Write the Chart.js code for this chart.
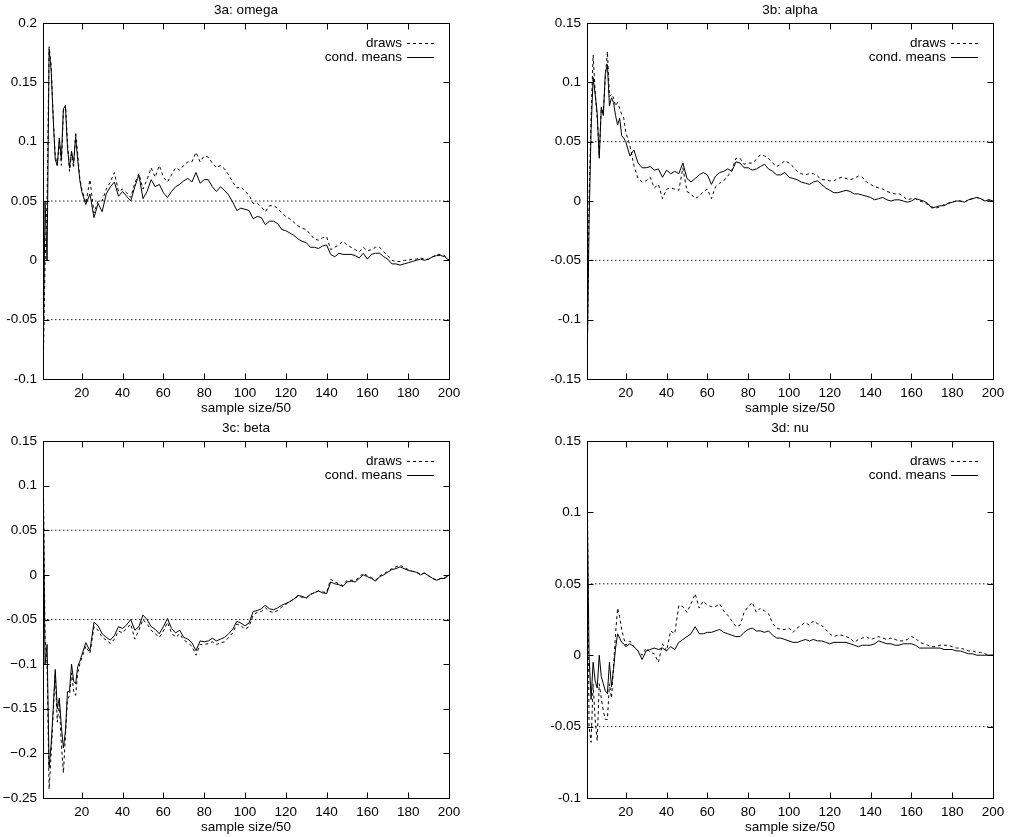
<!DOCTYPE html>
<html><head><meta charset="utf-8">
<script src="https://cdn.jsdelivr.net/npm/chart.js@4.4.1/dist/chart.umd.min.js"></script>
<style>
html,body{margin:0;padding:0;background:#fff;width:1012px;height:837px;overflow:hidden}
canvas{position:absolute}
</style></head><body>
<canvas id="c1" width="506" height="418" style="left:0;top:0"></canvas>
<canvas id="c2" width="506" height="418" style="left:506px;top:0"></canvas>
<canvas id="c3" width="506" height="419" style="left:0;top:418px"></canvas>
<canvas id="c4" width="506" height="419" style="left:506px;top:418px"></canvas>
<script>
const xValues = [1,2,3,4,5,6,7,8,9,10, 11,12,13,14,15,16,17,18,19,20,
  22,24,26,28,30,32,34,36,38,40, 42,44,46,48,50,52,54,56,58,60,
  62,64,66,68,70,72,74,76,78,80, 82,84,86,88,90,92,94,96,98,100,
  102,104,106,108,110,112,114,116,118,120, 122,124,126,128,130,132,134,136,138,140,
  142,144,146,148,150,152,154,156,158,160, 162,164,166,168,170,172,174,176,178,180,
  182,184,186,188,190,192,194,196,198,200];

const omegaMeans = [-0.1,0.05,0.0,0.178,0.16,0.12,0.085,0.08,0.103,0.085,
  0.128,0.13,0.095,0.078,0.092,0.082,0.104,0.085,0.068,0.058,
  0.047,0.056,0.036,0.048,0.041,0.056,0.062,0.066,0.054,0.058,
  0.054,0.05,0.062,0.072,0.052,0.058,0.068,0.062,0.064,0.057,
  0.053,0.058,0.062,0.064,0.067,0.069,0.066,0.074,0.065,0.068,
  0.068,0.062,0.058,0.062,0.059,0.055,0.049,0.042,0.044,0.043,
  0.042,0.035,0.037,0.036,0.030,0.033,0.033,0.031,0.026,0.025,
  0.023,0.021,0.018,0.016,0.015,0.011,0.011,0.01,0.012,0.013,
  0.005,0.003,0.006,0.005,0.005,0.005,0.004,0.002,0.006,0.001,
  0.005,0.006,0.006,0.003,0.001,-0.003,-0.003,-0.004,-0.003,-0.002,
  -0.001,0.0,0.001,0.0,0.001,0.003,0.004,0.004,0.003,0.0];
const omegaDraws = [-0.1,-0.003,0.05,0.18,0.165,0.12,0.088,0.08,0.1,0.08,
  0.126,0.131,0.1,0.075,0.09,0.078,0.108,0.09,0.07,0.06,
  0.048,0.068,0.04,0.05,0.05,0.06,0.066,0.074,0.058,0.06,
  0.057,0.053,0.065,0.073,0.06,0.068,0.078,0.07,0.08,0.07,
  0.066,0.072,0.078,0.076,0.08,0.083,0.083,0.091,0.083,0.088,
  0.087,0.082,0.078,0.08,0.077,0.072,0.066,0.061,0.062,0.058,
  0.055,0.048,0.048,0.045,0.041,0.046,0.046,0.044,0.04,0.037,
  0.035,0.032,0.029,0.027,0.026,0.022,0.018,0.017,0.019,0.02,
  0.009,0.011,0.013,0.016,0.013,0.011,0.009,0.007,0.011,0.008,
  0.009,0.011,0.011,0.007,0.004,0.0,-0.001,-0.001,0.0,0.0,
  0.001,0.001,0.002,0.001,0.001,0.003,0.005,0.005,0.004,0.0];

const alphaMeans = [-0.15,-0.02,0.06,0.104,0.09,0.074,0.036,0.079,0.072,0.108,
  0.115,0.08,0.087,0.083,0.072,0.064,0.07,0.055,0.053,0.05,
  0.038,0.043,0.032,0.028,0.028,0.029,0.026,0.027,0.02,0.026,
  0.023,0.025,0.023,0.032,0.019,0.016,0.019,0.022,0.024,0.022,
  0.014,0.021,0.024,0.025,0.027,0.025,0.033,0.032,0.028,0.028,
  0.026,0.027,0.029,0.031,0.027,0.025,0.022,0.022,0.024,0.02,
  0.019,0.018,0.016,0.015,0.014,0.016,0.017,0.014,0.011,0.009,
  0.007,0.007,0.008,0.009,0.008,0.006,0.006,0.005,0.004,0.003,
  0.001,0.002,0.003,0.001,0.0,0.001,0.001,0.0,-0.001,0.0,
  0.002,0.001,0.0,-0.002,-0.006,-0.005,-0.004,-0.004,-0.002,-0.001,
  0.0,0.0,-0.001,0.001,0.002,0.003,0.002,0.0,0.001,0.0];
const alphaDraws = [-0.15,0.0,0.07,0.123,0.092,0.07,0.038,0.078,0.075,0.105,
  0.126,0.088,0.09,0.087,0.08,0.083,0.078,0.073,0.07,0.058,
  0.047,0.03,0.019,0.016,0.017,0.02,0.011,0.014,0.002,0.01,
  0.011,0.01,0.009,0.028,0.008,0.006,0.002,0.004,0.008,0.01,
  0.002,0.012,0.015,0.017,0.021,0.026,0.036,0.036,0.031,0.032,
  0.032,0.035,0.039,0.038,0.036,0.032,0.029,0.031,0.034,0.032,
  0.029,0.025,0.023,0.022,0.023,0.023,0.021,0.018,0.018,0.017,
  0.017,0.019,0.02,0.019,0.018,0.019,0.021,0.02,0.016,0.014,
  0.012,0.011,0.01,0.008,0.007,0.006,0.006,0.004,0.001,0.002,
  0.002,0.0,-0.001,-0.003,-0.005,-0.006,-0.005,-0.003,-0.002,-0.001,
  0.0,0.0,-0.001,0.001,0.002,0.003,0.002,0.0,0.001,0.0];

const betaMeans = [0.13,-0.1,-0.078,-0.216,-0.19,-0.15,-0.106,-0.15,-0.138,-0.17,
  -0.194,-0.175,-0.131,-0.13,-0.1,-0.119,-0.122,-0.103,-0.097,-0.09,
  -0.076,-0.085,-0.053,-0.057,-0.066,-0.07,-0.073,-0.068,-0.058,-0.06,
  -0.056,-0.05,-0.062,-0.058,-0.045,-0.05,-0.058,-0.061,-0.066,-0.058,
  -0.049,-0.06,-0.065,-0.062,-0.07,-0.072,-0.076,-0.085,-0.074,-0.075,
  -0.074,-0.071,-0.074,-0.072,-0.07,-0.066,-0.061,-0.052,-0.054,-0.057,
  -0.054,-0.041,-0.04,-0.038,-0.034,-0.038,-0.039,-0.037,-0.034,-0.032,
  -0.03,-0.027,-0.023,-0.024,-0.026,-0.022,-0.02,-0.018,-0.02,-0.021,
  -0.008,-0.01,-0.011,-0.013,-0.008,-0.007,-0.008,-0.004,0.0,-0.002,
  -0.004,-0.007,-0.002,0.0,0.003,0.006,0.007,0.009,0.007,0.005,
  0.004,0.003,0.0,0.002,-0.001,-0.004,-0.006,-0.004,-0.004,0.0];
const betaDraws = [0.14,-0.07,-0.1,-0.24,-0.2,-0.155,-0.11,-0.165,-0.145,-0.19,
  -0.222,-0.18,-0.14,-0.135,-0.11,-0.13,-0.135,-0.11,-0.1,-0.093,
  -0.08,-0.088,-0.058,-0.062,-0.07,-0.073,-0.077,-0.072,-0.063,-0.065,
  -0.06,-0.055,-0.072,-0.062,-0.05,-0.055,-0.062,-0.066,-0.07,-0.063,
  -0.053,-0.065,-0.07,-0.066,-0.073,-0.076,-0.08,-0.09,-0.078,-0.078,
  -0.077,-0.075,-0.078,-0.076,-0.075,-0.07,-0.065,-0.055,-0.057,-0.061,
  -0.058,-0.045,-0.042,-0.041,-0.037,-0.041,-0.042,-0.04,-0.036,-0.033,
  -0.03,-0.027,-0.024,-0.025,-0.026,-0.022,-0.02,-0.018,-0.019,-0.02,
  -0.005,-0.008,-0.01,-0.012,-0.006,-0.006,-0.006,-0.003,0.002,-0.001,
  -0.003,-0.006,-0.001,0.001,0.004,0.007,0.009,0.011,0.008,0.006,
  0.004,0.003,0.001,0.002,-0.001,-0.004,-0.006,-0.004,-0.003,0.0];

const nuMeans = [0.12,0.0,-0.031,-0.005,-0.018,-0.023,0.0,-0.015,-0.02,-0.025,
  -0.027,-0.005,-0.022,-0.01,0.005,0.015,0.012,0.009,0.008,0.006,
  0.008,0.006,0.003,-0.003,0.003,0.004,0.005,0.004,0.005,0.003,
  0.006,0.004,0.009,0.011,0.013,0.015,0.02,0.015,0.015,0.016,
  0.016,0.017,0.018,0.016,0.015,0.014,0.013,0.013,0.016,0.018,
  0.019,0.017,0.017,0.016,0.017,0.014,0.012,0.012,0.011,0.01,
  0.009,0.009,0.01,0.011,0.01,0.011,0.01,0.01,0.009,0.008,
  0.009,0.009,0.009,0.009,0.008,0.007,0.006,0.007,0.007,0.007,
  0.008,0.01,0.009,0.008,0.008,0.007,0.007,0.008,0.008,0.008,
  0.007,0.005,0.005,0.005,0.005,0.005,0.005,0.004,0.004,0.004,
  0.003,0.003,0.002,0.001,0.001,0.0,0.0,0.0,0.0,0.0];
const nuDraws = [0.15,-0.05,-0.061,-0.02,-0.045,-0.06,-0.02,-0.03,-0.039,-0.045,
  -0.045,-0.02,-0.03,-0.008,0.015,0.033,0.027,0.018,0.012,0.007,
  0.01,0.006,0.003,0.0,0.005,0.002,0.001,-0.005,0.008,0.003,
  0.017,0.015,0.035,0.034,0.03,0.036,0.043,0.033,0.038,0.035,
  0.034,0.034,0.036,0.031,0.028,0.024,0.02,0.021,0.03,0.034,
  0.037,0.03,0.033,0.031,0.029,0.022,0.019,0.018,0.018,0.019,
  0.016,0.019,0.021,0.023,0.021,0.024,0.022,0.021,0.018,0.015,
  0.013,0.014,0.014,0.013,0.012,0.009,0.011,0.012,0.013,0.011,
  0.012,0.013,0.012,0.011,0.012,0.011,0.01,0.01,0.011,0.013,
  0.012,0.009,0.008,0.007,0.006,0.006,0.007,0.007,0.007,0.006,
  0.005,0.005,0.004,0.003,0.003,0.002,0.002,0.001,0.0,0.0];

const xTicks = [20,40,60,80,100,120,140,160,180,200];
const xTickLabels = ["20","40","60","80","100","120","140","160","180","200"];
const refLevels = [0.05,-0.05];
const panelTitles = ["3a: omega","3b: alpha","3c: beta","3d: nu"];
const seriesNames = ["draws","cond. means"];
const xAxisLabel = "sample size/50";

const yTicksOmega = [-0.1,-0.05,0,0.05,0.1,0.15,0.2];
const yLabelsOmega = ["-0.1","-0.05","0","0.05","0.1","0.15","0.2"];
const yTicksAlpha = [-0.15,-0.1,-0.05,0,0.05,0.1,0.15];
const yLabelsAlpha = ["-0.15","-0.1","-0.05","0","0.05","0.1","0.15"];
const yTicksBeta = [-0.25,-0.2,-0.15,-0.1,-0.05,0,0.05,0.1,0.15];
const yLabelsBeta = ["\u22120.25","\u22120.2","\u22120.15","\u22120.1","-0.05","0","0.05","0.1","0.15"];
const yTicksNu = [-0.1,-0.05,0,0.05,0.1,0.15];
const yLabelsNu = ["-0.1","-0.05","0","0.05","0.1","0.15"];

const FONT = "'Liberation Sans', Arial, Helvetica, sans-serif";
const FS = 13.5;
Chart.defaults.font.family = FONT;
Chart.defaults.font.size = FS;
Chart.defaults.color = '#000';

const decorPlugin = {
  id: 'decor',
  afterDatasetsDraw(chart, args, opts) {
    const ctx = chart.ctx, a = chart.chartArea;
    const xs = chart.scales.x, ys = chart.scales.y;
    ctx.save();
    ctx.strokeStyle = '#000';
    ctx.lineWidth = 1;
    ctx.setLineDash([]);
    // frame
    ctx.strokeRect(a.left + 0.5, a.top + 0.5, a.right - a.left, a.bottom - a.top);
    // inward ticks, all four sides
    const TL = 6;
    ctx.beginPath();
    xs.ticks.forEach(t => {
      const p = Math.round(xs.getPixelForValue(t.value)) + 0.5;
      ctx.moveTo(p, a.bottom + 0.5); ctx.lineTo(p, a.bottom + 0.5 - TL);
      ctx.moveTo(p, a.top + 0.5); ctx.lineTo(p, a.top + 0.5 + TL);
    });
    ys.ticks.forEach(t => {
      const p = Math.round(ys.getPixelForValue(t.value)) + 0.5;
      ctx.moveTo(a.left + 0.5, p); ctx.lineTo(a.left + 0.5 + TL, p);
      ctx.moveTo(a.right + 0.5, p); ctx.lineTo(a.right + 0.5 - TL, p);
    });
    ctx.stroke();
    // title and x label
    ctx.fillStyle = '#000';
    ctx.font = FS + 'px ' + FONT;
    ctx.textAlign = 'center';
    ctx.textBaseline = 'middle';
    const cx = (a.left + a.right) / 2;
    ctx.fillText(opts.title, cx, 10);
    ctx.fillText(xAxisLabel, cx, a.bottom + 29);
    // legend
    ctx.textAlign = 'right';
    const rows = [[seriesNames[0], [3, 3]], [seriesNames[1], []]];
    rows.forEach((r, i) => {
      const y = a.top + 20 + i * 14;
      ctx.fillText(r[0], a.right - 47, y);
      ctx.setLineDash(r[1]);
      ctx.beginPath();
      ctx.moveTo(a.right - 42, Math.round(y) + 0.5);
      ctx.lineTo(a.right - 15, Math.round(y) + 0.5);
      ctx.stroke();
    });
    ctx.restore();
  }
};

function makePanel(id, title, draws, means, yTicks, yLabels, yAxisWidth, padRight) {
  const pts = arr => xValues.map((x, i) => ({ x: x, y: arr[i] }));
  const refSets = refLevels.map(v => ({
    data: [{ x: xValues[0], y: v }, { x: xValues[xValues.length - 1], y: v }],
    borderColor: '#222', borderWidth: 1, borderDash: [1.5, 2.5],
    pointRadius: 0, fill: false
  }));
  new Chart(document.getElementById(id), {
    type: 'line',
    data: {
      datasets: [
        { label: seriesNames[1], data: pts(means), borderColor: '#000', borderWidth: 1,
          pointRadius: 0, tension: 0, fill: false },
        { label: seriesNames[0], data: pts(draws), borderColor: '#000', borderWidth: 1,
          borderDash: [3, 3], pointRadius: 0, tension: 0, fill: false },
        ...refSets
      ]
    },
    options: {
      responsive: false, animation: false, devicePixelRatio: 1,
      layout: { padding: { left: 0, top: 23, right: padRight, bottom: 0 } },
      plugins: { legend: { display: false }, tooltip: { enabled: false }, decor: { title: title } },
      scales: {
        x: {
          type: 'linear', min: xValues[0], max: xValues[xValues.length - 1],
          grid: { display: false, drawTicks: false }, border: { display: false },
          afterBuildTicks: s => { s.ticks = xTicks.map(v => ({ value: v })); },
          afterFit: s => { s.height = 39; },
          ticks: { padding: 6, autoSkip: false, maxRotation: 0,
                   callback: (v, i) => xTickLabels[i] }
        },
        y: {
          type: 'linear', min: yTicks[0], max: yTicks[yTicks.length - 1],
          grid: { display: false, drawTicks: false }, border: { display: false },
          afterBuildTicks: s => { s.ticks = yTicks.map(v => ({ value: v })); },
          afterFit: s => { s.width = yAxisWidth; },
          ticks: { padding: 6, autoSkip: false, callback: (v, i) => yLabels[i] }
        }
      }
    },
    plugins: [decorPlugin]
  });
}

makePanel('c1', panelTitles[0], omegaDraws, omegaMeans, yTicksOmega, yLabelsOmega, 43, 57);
makePanel('c2', panelTitles[1], alphaDraws, alphaMeans, yTicksAlpha, yLabelsAlpha, 81, 19);
makePanel('c3', panelTitles[2], betaDraws, betaMeans, yTicksBeta, yLabelsBeta, 43, 57);
makePanel('c4', panelTitles[3], nuDraws, nuMeans, yTicksNu, yLabelsNu, 81, 19);
</script>
</body></html>
